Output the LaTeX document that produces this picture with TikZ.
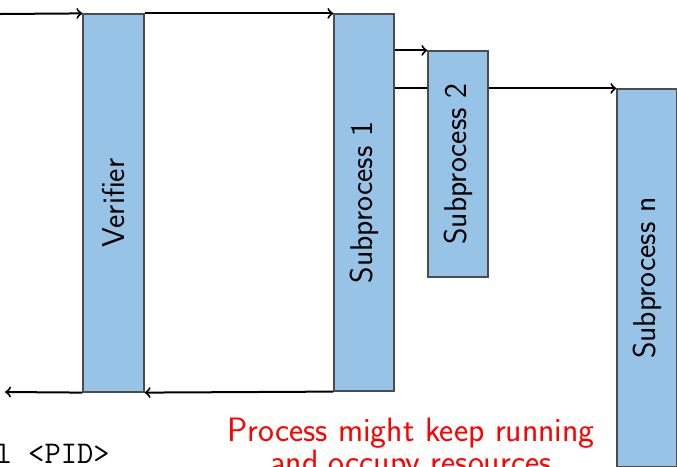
\documentclass[tikz,border=0pt]{standalone}
\usetikzlibrary{calc}
\begin{document}
\begin{tikzpicture}[x=0.5pt,y=-0.5pt,
  box/.style={draw=black!70,line width=0.6pt,fill=boxblue,inner sep=0pt,
    font=\sffamily\fontsize{15.8}{19}\selectfont},
  flow/.style={->,line width=1pt,black}]
\definecolor{boxblue}{RGB}{151,196,230}
\useasboundingbox (0,0) rectangle (677,467);

% stages
\node[box,minimum width=30.5pt,minimum height=189pt] (ver) at (113.5,203) {\rotatebox{90}{Verifier}};
\node[box,minimum width=30pt,minimum height=188.5pt] (s1) at (364,202.5) {\rotatebox{90}{Subprocess 1}};
\node[box,minimum width=30pt,minimum height=189pt] (sn) at (647,278) {\rotatebox{90}{Subprocess n}};

% incoming request and hand-offs
\coordinate (in) at (0,14);
\draw[flow] (in) -- (ver.north west);
\draw[flow] (ver.north east) -- (s1.north west);
\draw[flow] (sn.north west -| s1.east) -- (sn.north west);

\node[box,minimum width=30pt,minimum height=113pt] (s2) at (458,164) {\rotatebox{90}{Subprocess 2}};
\draw[flow] (s2.north west -| s1.east) -- (s2.north west);

% replies
\coordinate (out) at (5,392);
\draw[flow] (s1.south west) -- (ver.south east);
\draw[flow] (ver.south west) -- (out);

% notes
\node[anchor=base east,inner sep=0pt,font=\ttfamily\fontsize{15.8}{19}\selectfont] (kill) at (110,463) {kill <PID>};
\node[align=center,inner sep=0pt,text=red,anchor=base,
  font=\sffamily\fontsize{16.9}{16}\selectfont] (note) at (411,473)
  {Process might keep running\\and occupy resources};
\end{tikzpicture}
\end{document}
